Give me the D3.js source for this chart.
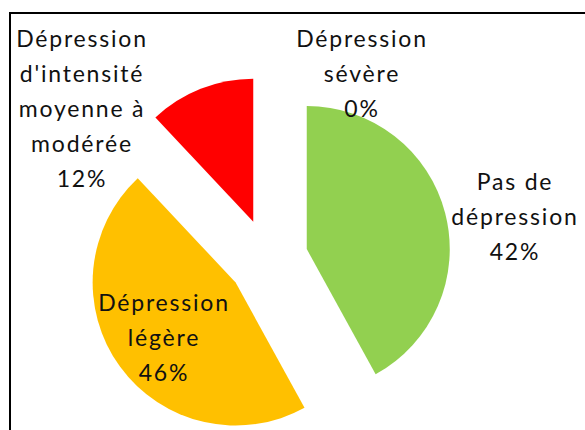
<!DOCTYPE html>
<html>
<head>
<meta charset="utf-8">
<script src="https://cdn.jsdelivr.net/npm/d3@7"></script>
<style>
  html, body { margin: 0; padding: 0; background: #fff; }
  svg { display: block; }
</style>
</head>
<body>
<div id="chart"></div>
<script>
// data
const categories = ["Pas de dépression", "Dépression légère", "Dépression d'intensité moyenne à modérée", "Dépression sévère"];
const values = [42, 46, 12, 0];
const colors = ["#92D050", "#FFC000", "#FF0000", "#7F7F7F"];
const labelLines = [
  ["Pas de", "dépression", "42%"],
  ["Dépression", "légère", "46%"],
  ["Dépression", "d'intensité", "moyenne à", "modérée", "12%"],
  ["Dépression", "sévère", "0%"]
];

// layout
const width = 585, height = 430;
const cx = 268, cy = 259, radius = 143, explode = 40;
const labelPos = [
  {x: 515, y: 190},
  {x: 164, y: 311},
  {x: 82, y: 47},
  {x: 362, y: 47}
];
const lineGap = 35;

const svg = d3.select("#chart").append("svg")
    .attr("width", width)
    .attr("height", height);

// chart frame (runs off the right and bottom edges)
svg.append("rect")
    .attr("x", 10)
    .attr("y", 13)
    .attr("width", 600)
    .attr("height", 460)
    .attr("fill", "none")
    .attr("stroke", "#000")
    .attr("stroke-width", 2);

const pie = d3.pie().sort(null).value(d => d);
const arcs = pie(values);
const arc = d3.arc().innerRadius(0).outerRadius(radius);

const g = svg.append("g").attr("transform", `translate(${cx},${cy})`);

g.selectAll(".slice")
    .data(arcs)
    .enter().append("path")
    .attr("class", "slice")
    .attr("d", arc)
    .attr("fill", (d, i) => colors[i])
    .attr("transform", d => {
      const mid = (d.startAngle + d.endAngle) / 2;
      return `translate(${explode * Math.sin(mid)},${-explode * Math.cos(mid)})`;
    });

const labels = svg.selectAll(".label")
    .data(categories)
    .enter().append("text")
    .attr("class", "label")
    .attr("text-anchor", "middle")
    .attr("font-family", "Lato, 'Open Sans', sans-serif")
    .attr("font-size", 23)
    .attr("letter-spacing", 1.8)
    .attr("fill", "#111");

labels.each(function(d, i) {
  d3.select(this).selectAll("tspan")
      .data(labelLines[i])
      .enter().append("tspan")
      .attr("x", labelPos[i].x)
      .attr("y", (t, j) => labelPos[i].y + j * lineGap)
      .text(t => t);
});
</script>
</body>
</html>
